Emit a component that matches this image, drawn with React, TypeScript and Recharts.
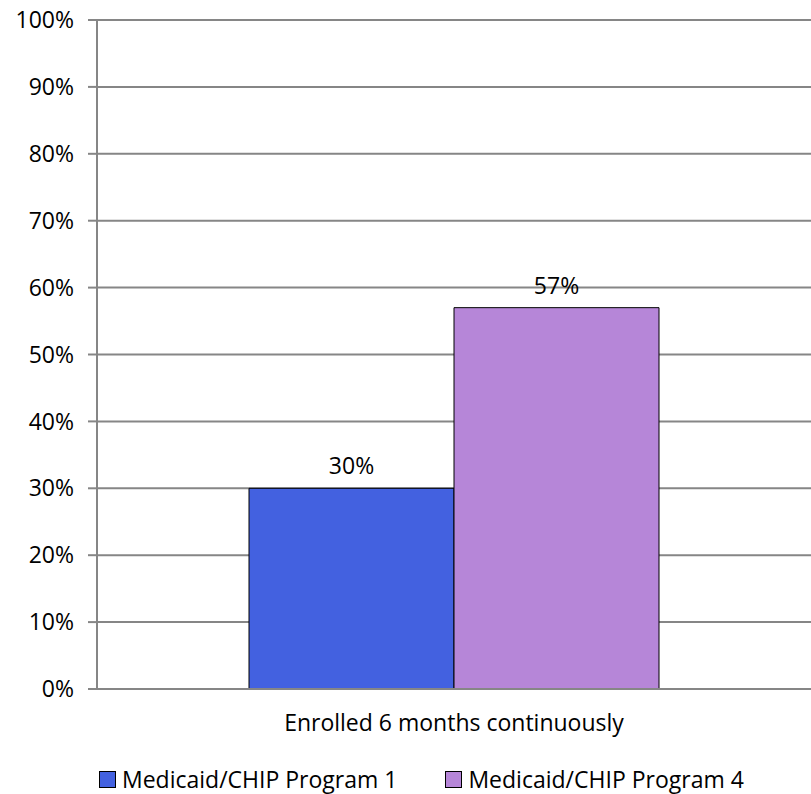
import { BarChart, Bar, XAxis, YAxis, CartesianGrid, LabelList, Legend } from "recharts";

const categories = ["Enrolled 6 months continuously"];
const program1 = [30];
const program4 = [57];
const yTicks = [0, 10, 20, 30, 40, 50, 60, 70, 80, 90, 100];

const seriesNames = ["Medicaid/CHIP Program 1", "Medicaid/CHIP Program 4"];
const seriesColors = ["#4361E0", "#B686D8"];

const data = categories.map((name, i) => ({
    name,
    p1: program1[i],
    p4: program4[i],
}));

const FONT = "'Open Sans', sans-serif";

function LegendContent() {
    return (
        <div style={{ display: "flex", justifyContent: "flex-start", paddingLeft: 99, paddingTop: 14, fontFamily: FONT, fontSize: 23, color: "#000" }}>
            {seriesNames.map((n, i) => (
                <div key={n} style={{ display: "flex", alignItems: "center", marginRight: i === 0 ? 48 : 0 }}>
                    <span
                        style={{
                            display: "inline-block",
                            width: 15,
                            height: 15,
                            background: seriesColors[i],
                            border: "1px solid #000",
                            marginRight: 6,
                        }}
                    />
                    {n}
                </div>
            ))}
        </div>
    );
}

export default function App() {
    return (
        <div style={{ position: "absolute", left: 0, top: 0, background: "#fff" }}>
            <BarChart
                width={811}
                height={794}
                data={data}
                margin={{ top: 20, right: 0, left: 0, bottom: 5 }}
                barCategoryGap={152}
                barGap={0}
            >
                <CartesianGrid horizontal vertical={false} stroke="#868686" strokeWidth={2} />
                <XAxis
                    dataKey="name"
                    axisLine={{ stroke: "#868686", strokeWidth: 2 }}
                    tickLine={false}
                    tick={{ fill: "#000", fontSize: 23, fontFamily: FONT }}
                    tickMargin={20}
                    height={60}
                />
                <YAxis
                    domain={[0, 100]}
                    ticks={yTicks}
                    interval={0}
                    tickFormatter={(v) => `${v}%`}
                    width={97}
                    axisLine={{ stroke: "#868686", strokeWidth: 2 }}
                    tickLine={{ stroke: "#868686", strokeWidth: 2 }}
                    tickSize={9}
                    tickMargin={14}
                    tick={{ fill: "#000", fontSize: 23, fontFamily: FONT }}
                />
                <Legend verticalAlign="bottom" height={40} content={<LegendContent />} />
                <Bar dataKey="p1" name={seriesNames[0]} fill={seriesColors[0]} stroke="#000" strokeWidth={1} isAnimationActive={false}>
                    <LabelList dataKey="p1" position="top" offset={14} formatter={(v: number) => `${v}%`} style={{ fill: "#000", fontSize: 23, fontFamily: FONT }} />
                </Bar>
                <Bar dataKey="p4" name={seriesNames[1]} fill={seriesColors[1]} stroke="#000" strokeWidth={1} isAnimationActive={false}>
                    <LabelList dataKey="p4" position="top" offset={14} formatter={(v: number) => `${v}%`} style={{ fill: "#000", fontSize: 23, fontFamily: FONT }} />
                </Bar>
            </BarChart>
        </div>
    );
}
